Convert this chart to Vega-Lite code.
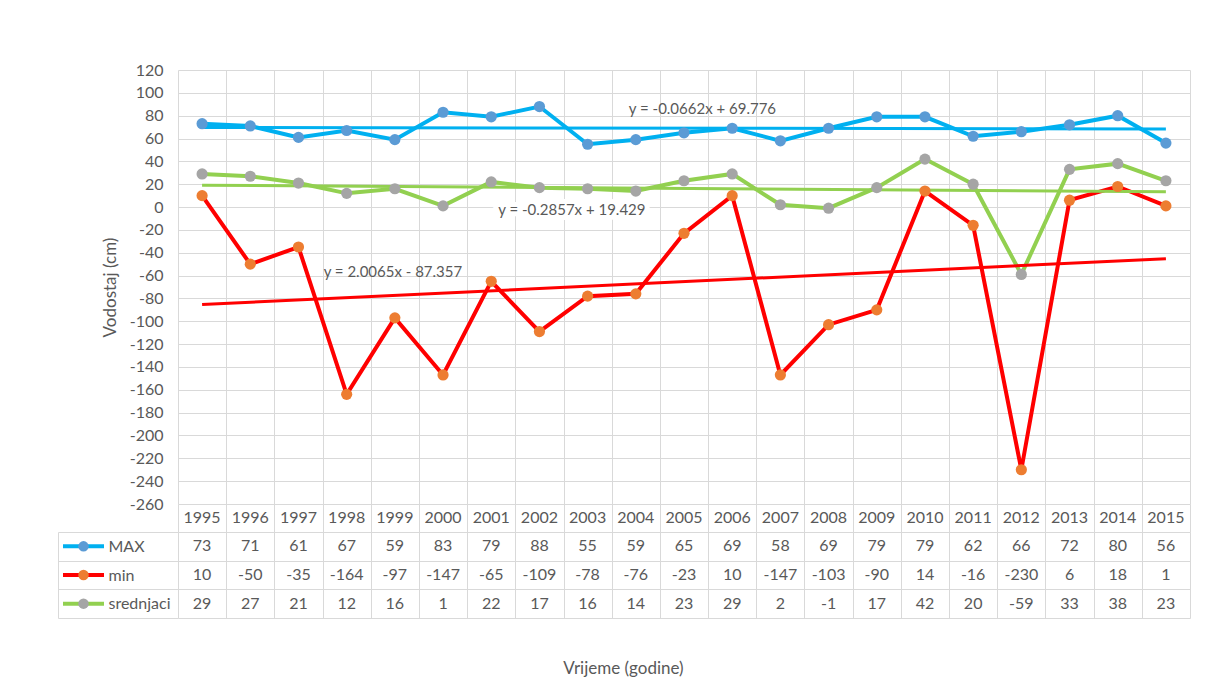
{
  "$schema": "https://vega.github.io/schema/vega-lite/v6.json",
  "background": "white",
  "padding": {"left": 57, "top": 62, "right": 17, "bottom": 5},
  "bounds": "flush",
  "spacing": 0,
  "config": {"view": {"stroke": null}, "font": "Lato"},
  "datasets": {
    "labels": [
      {"series": "MAX", "year": 2004, "value": 86, "text": "y = -0.0662x + 69.776"},
      {"series": "srednjaci", "year": 2001, "value": -2.6, "text": "y = -0.2857x + 19.429"},
      {"series": "min", "year": 1998, "value": -57, "text": "y = 2.0065x - 87.357"}
    ]
  },
  "data": {"values": [
    {"year": 1995, "series": "MAX", "value": 73}, {"year": 1996, "series": "MAX", "value": 71}, {"year": 1997, "series": "MAX", "value": 61},
    {"year": 1998, "series": "MAX", "value": 67}, {"year": 1999, "series": "MAX", "value": 59}, {"year": 2000, "series": "MAX", "value": 83},
    {"year": 2001, "series": "MAX", "value": 79}, {"year": 2002, "series": "MAX", "value": 88}, {"year": 2003, "series": "MAX", "value": 55},
    {"year": 2004, "series": "MAX", "value": 59}, {"year": 2005, "series": "MAX", "value": 65}, {"year": 2006, "series": "MAX", "value": 69},
    {"year": 2007, "series": "MAX", "value": 58}, {"year": 2008, "series": "MAX", "value": 69}, {"year": 2009, "series": "MAX", "value": 79},
    {"year": 2010, "series": "MAX", "value": 79}, {"year": 2011, "series": "MAX", "value": 62}, {"year": 2012, "series": "MAX", "value": 66},
    {"year": 2013, "series": "MAX", "value": 72}, {"year": 2014, "series": "MAX", "value": 80}, {"year": 2015, "series": "MAX", "value": 56},
    {"year": 1995, "series": "min", "value": 10}, {"year": 1996, "series": "min", "value": -50}, {"year": 1997, "series": "min", "value": -35},
    {"year": 1998, "series": "min", "value": -164}, {"year": 1999, "series": "min", "value": -97}, {"year": 2000, "series": "min", "value": -147},
    {"year": 2001, "series": "min", "value": -65}, {"year": 2002, "series": "min", "value": -109}, {"year": 2003, "series": "min", "value": -78},
    {"year": 2004, "series": "min", "value": -76}, {"year": 2005, "series": "min", "value": -23}, {"year": 2006, "series": "min", "value": 10},
    {"year": 2007, "series": "min", "value": -147}, {"year": 2008, "series": "min", "value": -103}, {"year": 2009, "series": "min", "value": -90},
    {"year": 2010, "series": "min", "value": 14}, {"year": 2011, "series": "min", "value": -16}, {"year": 2012, "series": "min", "value": -230},
    {"year": 2013, "series": "min", "value": 6}, {"year": 2014, "series": "min", "value": 18}, {"year": 2015, "series": "min", "value": 1},
    {"year": 1995, "series": "srednjaci", "value": 29}, {"year": 1996, "series": "srednjaci", "value": 27}, {"year": 1997, "series": "srednjaci", "value": 21},
    {"year": 1998, "series": "srednjaci", "value": 12}, {"year": 1999, "series": "srednjaci", "value": 16}, {"year": 2000, "series": "srednjaci", "value": 1},
    {"year": 2001, "series": "srednjaci", "value": 22}, {"year": 2002, "series": "srednjaci", "value": 17}, {"year": 2003, "series": "srednjaci", "value": 16},
    {"year": 2004, "series": "srednjaci", "value": 14}, {"year": 2005, "series": "srednjaci", "value": 23}, {"year": 2006, "series": "srednjaci", "value": 29},
    {"year": 2007, "series": "srednjaci", "value": 2}, {"year": 2008, "series": "srednjaci", "value": -1}, {"year": 2009, "series": "srednjaci", "value": 17},
    {"year": 2010, "series": "srednjaci", "value": 42}, {"year": 2011, "series": "srednjaci", "value": 20}, {"year": 2012, "series": "srednjaci", "value": -59},
    {"year": 2013, "series": "srednjaci", "value": 33}, {"year": 2014, "series": "srednjaci", "value": 38}, {"year": 2015, "series": "srednjaci", "value": 23}
  ]},
  "vconcat": [
    {
      "width": 1012,
      "height": 434,
      "encoding": {
        "x": {"field": "year", "type": "ordinal", "scale": {"type": "band", "paddingInner": 0, "paddingOuter": 0},
          "axis": {"grid": true, "tickBand": "extent", "labels": false, "ticks": false, "domain": false, "title": null, "gridColor": "#d9d9d9"}},
        "y": {"field": "value", "type": "quantitative", "scale": {"domain": [-260, 120], "nice": false, "zero": false},
          "axis": {"values": [-260, -240, -220, -200, -180, -160, -140, -120, -100, -80, -60, -40, -20, 0, 20, 40, 60, 80, 100, 120],
            "labelExpr": "'' + datum.value", "grid": true, "gridColor": "#d9d9d9", "ticks": false, "domain": false,
            "labelFontSize": 16, "labelColor": "#595959", "labelPadding": 15,
            "title": "Vodostaj (cm)", "titleFontSize": 17, "titleFontWeight": "normal", "titleColor": "#595959", "titlePadding": 10}}
      },
      "layer": [
        {
          "mark": {"type": "line", "strokeWidth": 4},
          "encoding": {"stroke": {"field": "series", "type": "nominal", "legend": null,
            "scale": {"domain": ["MAX", "min", "srednjaci"], "range": ["#00b0f0", "#ff0000", "#92d050"]}}}
        },
        {
          "transform": [{"regression": "value", "on": "year", "groupby": ["series"]}],
          "mark": {"type": "line", "strokeWidth": 3},
          "encoding": {"stroke": {"field": "series", "type": "nominal", "legend": null}}
        },
        {
          "mark": {"type": "point", "filled": true, "size": 125, "opacity": 1},
          "encoding": {"fill": {"field": "series", "type": "nominal", "legend": null,
            "scale": {"domain": ["MAX", "min", "srednjaci"], "range": ["#5b9bd5", "#ed7d31", "#a5a5a5"]}}}
        },
        {
          "data": {"name": "labels"},
          "transform": [{"filter": "datum.series === 'srednjaci'"}],
          "mark": {"type": "text", "align": "left", "baseline": "middle", "fontSize": 15, "dx": 7, "fill": "white", "stroke": "white", "strokeWidth": 10},
          "encoding": {"text": {"field": "text"}}
        },
        {
          "data": {"name": "labels"},
          "transform": [{"filter": "datum.series === 'srednjaci'"}],
          "mark": {"type": "text", "align": "left", "baseline": "middle", "fontSize": 15, "dx": 7, "color": "#595959"},
          "encoding": {"text": {"field": "text"}}
        },
        {
          "data": {"name": "labels"},
          "transform": [{"filter": "datum.series === 'MAX'"}],
          "mark": {"type": "text", "align": "left", "baseline": "middle", "fontSize": 15, "dx": -7, "color": "#595959"},
          "encoding": {"text": {"field": "text"}}
        },
        {
          "data": {"name": "labels"},
          "transform": [{"filter": "datum.series === 'min'"}],
          "mark": {"type": "text", "align": "left", "baseline": "middle", "fontSize": 15, "dx": -23, "color": "#595959"},
          "encoding": {"text": {"field": "text"}}
        }
      ]
    },
    {
      "width": 1012,
      "height": 28,
      "transform": [{"filter": "datum.series === 'MAX'"}],
      "mark": {"type": "text", "fontSize": 16, "color": "#595959", "baseline": "middle"},
      "encoding": {
        "x": {"field": "year", "type": "ordinal", "scale": {"type": "band", "paddingInner": 0, "paddingOuter": 0},
          "axis": {"grid": true, "tickBand": "extent", "gridColor": "#d9d9d9", "labels": false, "ticks": false, "domain": false, "title": null}},
        "text": {"field": "year", "type": "nominal"}
      }
    },
    {
      "width": 1012,
      "height": 86,
      "resolve": {"scale": {"x": "independent"}},
      "layer": [
        {
          "mark": {"type": "text", "fontSize": 16, "color": "#595959", "baseline": "middle"},
          "encoding": {
            "x": {"field": "year", "type": "ordinal", "scale": {"type": "band", "paddingInner": 0, "paddingOuter": 0},
              "axis": {"grid": true, "tickBand": "extent", "gridColor": "#d9d9d9", "labels": false, "ticks": false, "domain": false,
                "title": "Vrijeme (godine)", "titleFontSize": 17, "titleFontWeight": "normal", "titleColor": "#595959", "titlePadding": 42, "titleX": 445}},
            "y": {"field": "series", "type": "nominal",
              "scale": {"type": "band", "domain": ["MAX", "min", "srednjaci"], "paddingInner": 0, "paddingOuter": 0},
              "axis": {"orient": "left", "offset": 120, "tickSize": -120, "tickBand": "extent", "tickColor": "#d9d9d9",
                "domainColor": "#d9d9d9", "grid": true, "gridColor": "#d9d9d9",
                "labelAlign": "left", "labelBaseline": "middle", "labelPadding": 70, "labelFontSize": 16, "labelColor": "#595959", "title": null}},
            "text": {"field": "value", "type": "nominal"}
          }
        },
        {
          "transform": [{"filter": "datum.year === 1995"}],
          "mark": {"type": "rule", "strokeWidth": 4},
          "encoding": {
            "x": {"datum": 0, "type": "quantitative", "scale": {"domain": [0, 1], "range": [-115, -74]}, "axis": null},
            "x2": {"datum": 1},
            "y": {"field": "series", "type": "nominal"},
            "stroke": {"field": "series", "type": "nominal", "legend": null,
              "scale": {"domain": ["MAX", "min", "srednjaci"], "range": ["#00b0f0", "#ff0000", "#92d050"]}}
          }
        },
        {
          "transform": [{"filter": "datum.year === 1995"}],
          "mark": {"type": "point", "filled": true, "size": 110, "opacity": 1},
          "encoding": {
            "x": {"datum": 0.5, "type": "quantitative", "scale": {"domain": [0, 1], "range": [-115, -74]}, "axis": null},
            "y": {"field": "series", "type": "nominal"},
            "fill": {"field": "series", "type": "nominal", "legend": null,
              "scale": {"domain": ["MAX", "min", "srednjaci"], "range": ["#5b9bd5", "#ed7d31", "#a5a5a5"]}}
          }
        }
      ]
    }
  ]
}
